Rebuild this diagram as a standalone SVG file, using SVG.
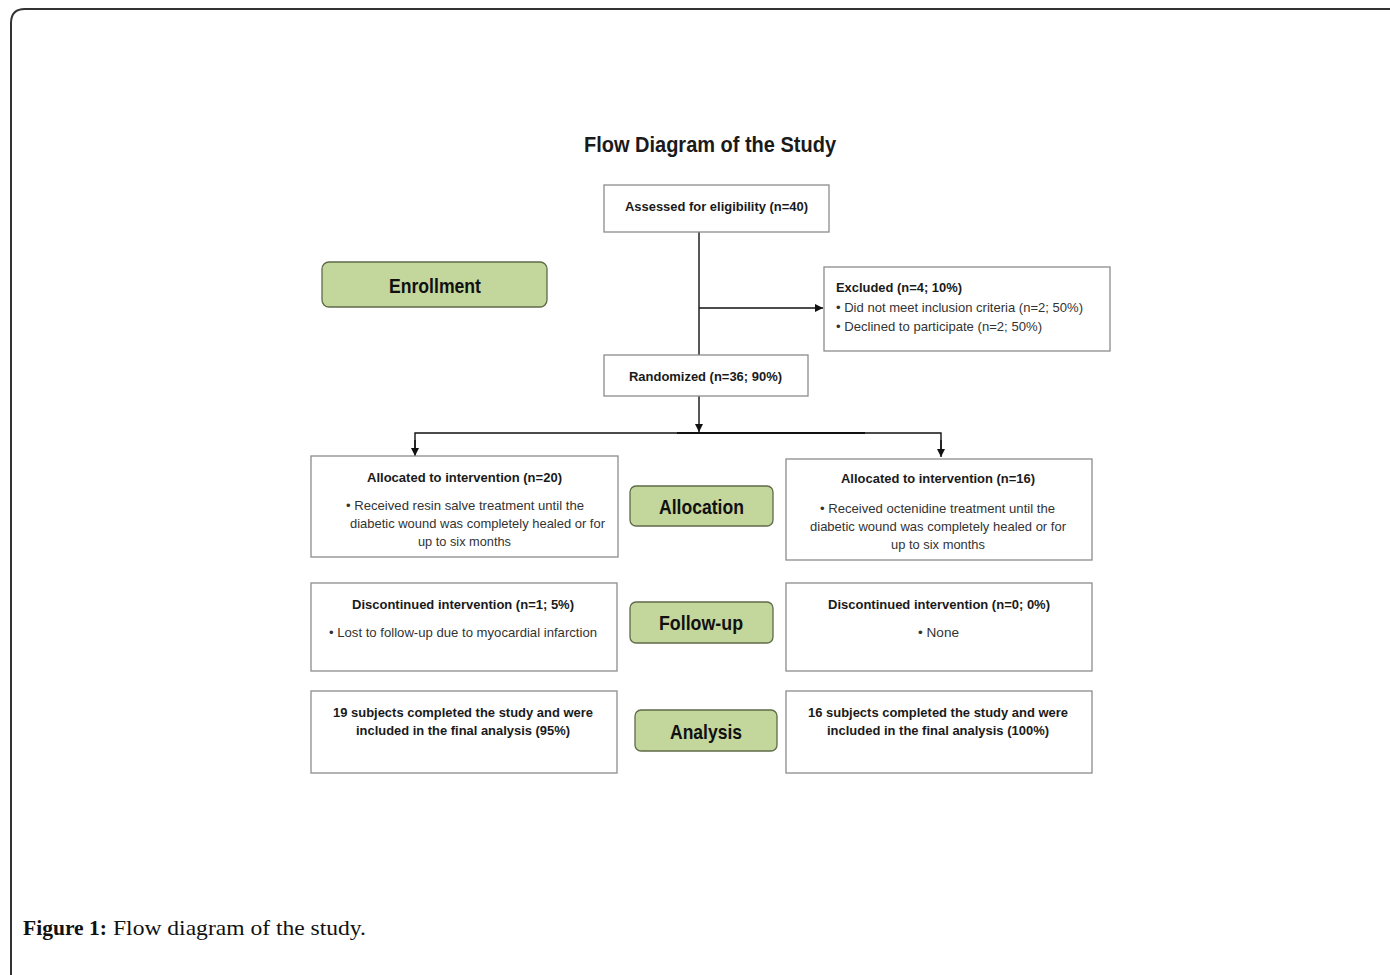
<svg xmlns="http://www.w3.org/2000/svg" width="1390" height="975" viewBox="0 0 1390 975">
<style>
.box{fill:#fff;stroke:#8c8c8c;stroke-width:1.3}
.grn{fill:#c3d69b;stroke:#5f6b48;stroke-width:1.3}
.t{font-family:"Liberation Sans",Arial,sans-serif;fill:#1a1a1a}
.b{font-weight:bold}
.g{font-family:"Liberation Sans",Arial,sans-serif;font-weight:bold;font-size:21px;fill:#111}
.s{font-size:13.5px}
.r{font-size:13.5px;fill:#333}
.ln{stroke:#111;stroke-width:1.4;fill:none}
.cap{font-family:"Liberation Serif","Times New Roman",serif;font-size:22px;fill:#111}
</style>
<defs>
<marker id="ah" viewBox="0 0 10 10" refX="10" refY="5" markerWidth="8" markerHeight="8" markerUnits="userSpaceOnUse" orient="auto">
<path d="M0,0 L10,5 L0,10 z" fill="#111"/>
</marker>
</defs>
<rect width="1390" height="975" fill="#fff"/>
<path d="M11,975 V23 Q11,9 25,9 H1390" fill="none" stroke="#333" stroke-width="2"/>
<text class="t b" x="584" y="152" font-size="22" textLength="252" lengthAdjust="spacingAndGlyphs">Flow Diagram of the Study</text>

<g id="connectors">
<line class="ln" x1="699" y1="232" x2="699" y2="355"/>
<line class="ln" x1="699" y1="308" x2="823" y2="308" marker-end="url(#ah)"/>
<line class="ln" x1="699" y1="396" x2="699" y2="432" marker-end="url(#ah)"/>
<polyline class="ln" points="415,448 415,433 941,433 941,449"/>
<line class="ln" x1="415" y1="440" x2="415" y2="456" marker-end="url(#ah)"/>
<line class="ln" x1="941" y1="440" x2="941" y2="457" marker-end="url(#ah)"/>
<line x1="677" y1="433" x2="865" y2="433" stroke="#111" stroke-width="2"/>
</g>

<g id="assessed">
<rect class="box" x="604" y="185" width="225" height="47"/>
<text class="t b s" x="625" y="211" textLength="183" lengthAdjust="spacingAndGlyphs">Assessed for eligibility (n=40)</text>
</g>
<g id="excluded">
<rect class="box" x="824" y="267" width="286" height="84"/>
<text class="t b s" x="836" y="292" textLength="126" lengthAdjust="spacingAndGlyphs">Excluded (n=4; 10%)</text>
<text class="t r" x="836" y="312" textLength="247" lengthAdjust="spacingAndGlyphs">• Did not meet inclusion criteria (n=2; 50%)</text>
<text class="t r" x="836" y="331" textLength="206" lengthAdjust="spacingAndGlyphs">• Declined to participate (n=2; 50%)</text>
</g>
<g id="randomized">
<rect class="box" x="604" y="355" width="204" height="41"/>
<text class="t b s" x="629" y="381" textLength="153" lengthAdjust="spacingAndGlyphs">Randomized (n=36; 90%)</text>
</g>
<g id="enrollment">
<rect class="grn" x="322" y="262" width="225" height="45" rx="7"/>
<text class="g" x="389" y="293" textLength="92" lengthAdjust="spacingAndGlyphs">Enrollment</text>
</g>
<g id="alloc-left">
<rect class="box" x="311" y="456" width="307" height="101"/>
<text class="t b s" x="367" y="482" textLength="195" lengthAdjust="spacingAndGlyphs">Allocated to intervention (n=20)</text>
<text class="t r" x="346" y="510" textLength="238" lengthAdjust="spacingAndGlyphs">• Received resin salve treatment until the</text>
<text class="t r" x="350" y="528" textLength="255" lengthAdjust="spacingAndGlyphs">diabetic wound was completely healed or for</text>
<text class="t r" x="418" y="546" textLength="93" lengthAdjust="spacingAndGlyphs">up to six months</text>
</g>
<g id="allocation">
<rect class="grn" x="630" y="486" width="143" height="40" rx="6"/>
<text class="g" x="659" y="514" textLength="85" lengthAdjust="spacingAndGlyphs">Allocation</text>
</g>
<g id="alloc-right">
<rect class="box" x="786" y="459" width="306" height="101"/>
<text class="t b s" x="841" y="483" textLength="194" lengthAdjust="spacingAndGlyphs">Allocated to intervention (n=16)</text>
<text class="t r" x="820" y="513" textLength="235" lengthAdjust="spacingAndGlyphs">• Received octenidine treatment until the</text>
<text class="t r" x="810" y="531" textLength="256" lengthAdjust="spacingAndGlyphs">diabetic wound was completely healed or for</text>
<text class="t r" x="891" y="549" textLength="94" lengthAdjust="spacingAndGlyphs">up to six months</text>
</g>
<g id="followup-left">
<rect class="box" x="311" y="583" width="306" height="88"/>
<text class="t b s" x="352" y="609" textLength="222" lengthAdjust="spacingAndGlyphs">Discontinued intervention (n=1; 5%)</text>
<text class="t r" x="329" y="637" textLength="268" lengthAdjust="spacingAndGlyphs">• Lost to follow-up due to myocardial infarction</text>
</g>
<g id="followup">
<rect class="grn" x="630" y="602" width="143" height="41" rx="6"/>
<text class="g" x="659" y="630" textLength="84" lengthAdjust="spacingAndGlyphs">Follow-up</text>
</g>
<g id="followup-right">
<rect class="box" x="786" y="583" width="306" height="88"/>
<text class="t b s" x="828" y="609" textLength="222" lengthAdjust="spacingAndGlyphs">Discontinued intervention (n=0; 0%)</text>
<text class="t r" x="918" y="637" textLength="41" lengthAdjust="spacingAndGlyphs">• None</text>
</g>
<g id="analysis-left">
<rect class="box" x="311" y="691" width="306" height="82"/>
<text class="t b s" x="333" y="717" textLength="260" lengthAdjust="spacingAndGlyphs">19 subjects completed the study and were</text>
<text class="t b s" x="356" y="735" textLength="214" lengthAdjust="spacingAndGlyphs">included in the final analysis (95%)</text>
</g>
<g id="analysis">
<rect class="grn" x="635" y="710" width="142" height="41" rx="6"/>
<text class="g" x="670" y="739" textLength="72" lengthAdjust="spacingAndGlyphs">Analysis</text>
</g>
<g id="analysis-right">
<rect class="box" x="786" y="691" width="306" height="82"/>
<text class="t b s" x="808" y="717" textLength="260" lengthAdjust="spacingAndGlyphs">16 subjects completed the study and were</text>
<text class="t b s" x="827" y="735" textLength="222" lengthAdjust="spacingAndGlyphs">included in the final analysis (100%)</text>
</g>
<text class="cap" x="23" y="935" font-weight="bold" textLength="84" lengthAdjust="spacingAndGlyphs">Figure 1:</text>
<text class="cap" x="113" y="935" textLength="253" lengthAdjust="spacingAndGlyphs">Flow diagram of the study.</text>
</svg>
